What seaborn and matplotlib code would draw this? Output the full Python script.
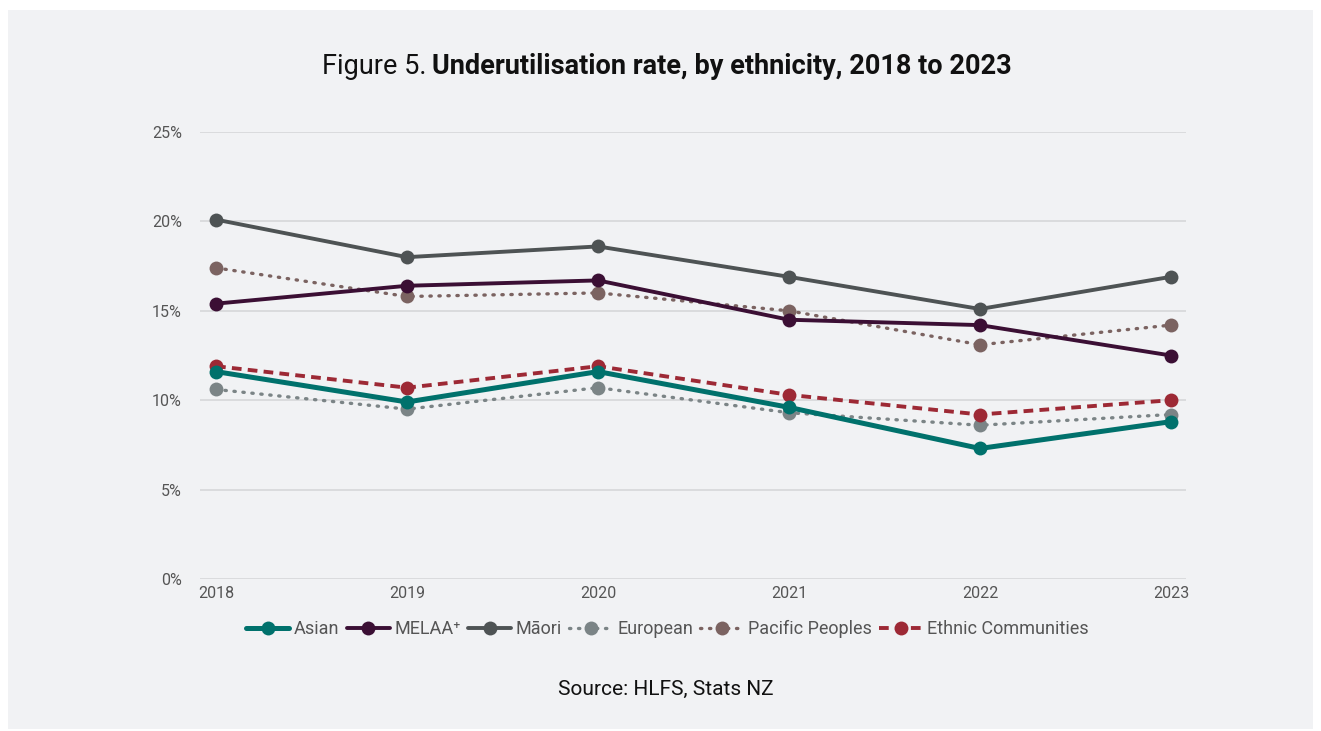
import matplotlib
matplotlib.use("Agg")
import matplotlib.pyplot as plt
from matplotlib.patches import Rectangle
import seaborn as sns
import pandas as pd

# Underutilisation rate (%) by ethnicity
years = [2018, 2019, 2020, 2021, 2022, 2023]
asian = [11.6, 9.9, 11.6, 9.6, 7.3, 8.8]
melaa = [15.4, 16.4, 16.7, 14.5, 14.2, 12.5]
maori = [20.1, 18.0, 18.6, 16.9, 15.1, 16.9]
european = [10.6, 9.5, 10.7, 9.3, 8.6, 9.2]
pacific = [17.4, 15.8, 16.0, 15.0, 13.1, 14.2]
ethnic = [11.9, 10.7, 11.9, 10.3, 9.2, 10.0]

groups = ["Asian", "MELAA\u207a", "M\u0101ori", "European", "Pacific Peoples",
          "Ethnic Communities"]
series = [asian, melaa, maori, european, pacific, ethnic]
colors = ["#00716c", "#3b0f34", "#4e5354", "#7b8486", "#7b6361", "#9d2935"]
dash_styles = [None, None, None, (0.4, 2.3), (0.4, 2.3), (2.5, 1.6)]
widths = [3.6, 2.8, 2.8, 2.4, 2.4, 2.8]

df = pd.DataFrame({
    "Year": years * len(groups),
    "Rate": [v for s in series for v in s],
    "Group": [g for g in groups for _ in years],
})

sns.set_theme(style="white")
plt.rcParams["font.family"] = ["Roboto", "DejaVu Sans"]

W, H = 1321, 731
bg = "#f1f2f4"
fig = plt.figure(figsize=(W / 100, H / 100), dpi=100, facecolor="white")
fig.patches.append(Rectangle((8 / W, 2 / H), 1305 / W, 719 / H,
                             transform=fig.transFigure, facecolor=bg,
                             edgecolor="none", zorder=-10))

ax = fig.add_axes([200 / W, (H - 579) / H, 986 / W, 447 / H])
ax.set_zorder(1)
ax.set_facecolor(bg)

for i, g in enumerate(groups):
    sub = df[df["Group"] == g]
    solid = dash_styles[i] is None
    sns.lineplot(data=sub, x="Year", y="Rate", ax=ax, color=colors[i],
                 lw=widths[i], marker="o", markersize=10, markeredgewidth=0,
                 label=g, zorder=3 + (1 if solid else 0))
    line = ax.lines[-1]
    if not solid:
        line.set_dashes(dash_styles[i])
        line.set_dash_capstyle("round" if dash_styles[i][0] < 1 else "butt")

ax.set_xlim(2017.916, 2023.079)
ax.set_ylim(0, 25)
ax.set_xticks(years)
ax.set_yticks([0, 5, 10, 15, 20, 25])
ax.set_yticklabels([f"{v}%" for v in [0, 5, 10, 15, 20, 25]])
ax.grid(axis="y", color="#d3d4d6", lw=1.1)
ax.set_axisbelow(True)
for s in ax.spines.values():
    s.set_visible(False)
ax.tick_params(axis="both", length=0, labelsize=11.5, labelcolor="#555555")
ax.tick_params(axis="y", pad=13)
ax.tick_params(axis="x", pad=5)
ax.set_xlabel("")
ax.set_ylabel("")

leg = ax.legend(loc="upper center", bbox_to_anchor=(0.474, -0.055), ncol=6,
                frameon=False, fontsize=13, handlelength=2.4, handletextpad=0.25,
                columnspacing=0.4, labelcolor="#555555")
for h, d in zip(leg.get_lines(), dash_styles):
    if d is not None:
        h.set_dashes(d)

title_y = 1 - 66 / H
t1 = fig.text(322 / W, title_y, "Figure 5.", ha="left", va="center",
              fontsize=19.5, color="#111111")
fig.canvas.draw()
bb = t1.get_window_extent()
fig.text((bb.x1 + 6) / W, title_y, "Underutilisation rate, by ethnicity, 2018 to 2023",
         ha="left", va="center", fontsize=19.5, fontweight="bold", color="#111111")

fig.text(666 / W, 1 - 689 / H, "Source: HLFS, Stats NZ", ha="center", va="center",
         fontsize=15, color="#111111")

fig.savefig("out.png", dpi=100, facecolor="white")
